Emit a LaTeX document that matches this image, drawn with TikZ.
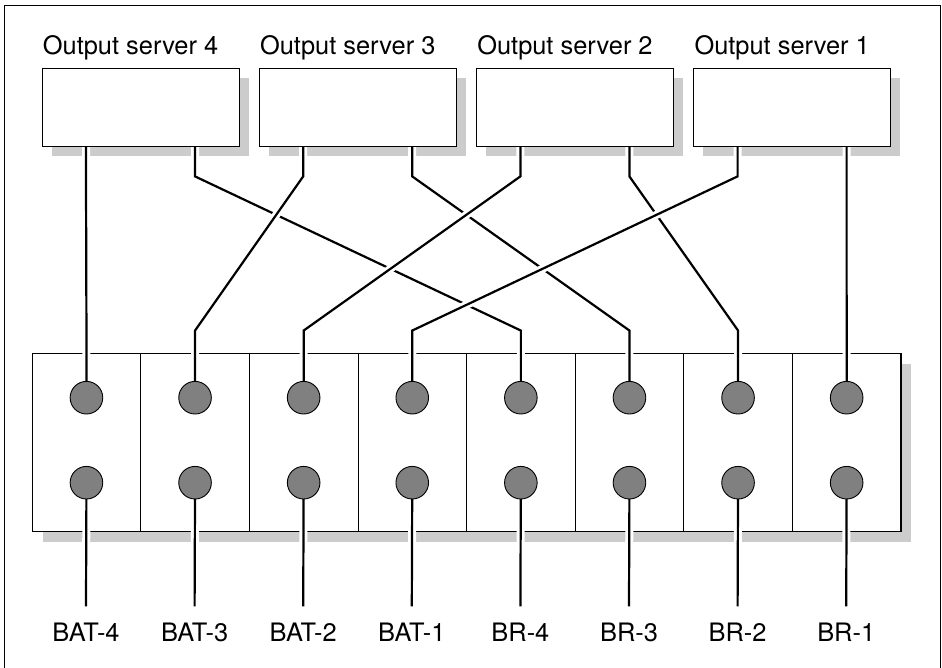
\documentclass[tikz,border=0pt]{standalone}
\usepackage{fontspec}
\setmainfont{TeX Gyre Heros}
\usepackage{tikz}
\usetikzlibrary{shadows}
\pgfdeclarelayer{front}
\pgfsetlayers{main,front}

\begin{document}
\begin{tikzpicture}[x=1pt,y=-1pt,font=\fontsize{25.4}{30}\selectfont]
\tikzstyle{server} = [draw,line width=0.9pt,fill=white,anchor=north west,minimum width=197pt,minimum height=77.4pt,inner sep=0pt,general shadow={fill=black!20,shadow xshift=9.4pt,shadow yshift=-9.4pt}];
\tikzstyle{rack} = [draw,line width=0.9pt,fill=white,anchor=north west,minimum width=868.6pt,minimum height=178.3pt,inner sep=0pt,general shadow={fill=black!20,shadow xshift=10.5pt,shadow yshift=-10.5pt}];
\tikzstyle{cell} = [draw,line width=0.9pt,anchor=north west,minimum width=108.6pt,minimum height=178.3pt,inner sep=0pt];
\tikzstyle{jack} = [draw,circle,line width=0.9pt,fill=black!50,minimum size=32.6pt,inner sep=0pt];
\tikzstyle{wire} = [line width=2.2pt,preaction={draw=white,line width=8pt}];
\tikzstyle{tag} = [anchor=base,inner sep=0pt,outer ysep=16.7pt];
\useasboundingbox (0,0) rectangle (942,668);
\draw[line width=0.8pt] (4,675) -- (4,5) -- (940.5,5) -- (940.5,675);

% output servers
\foreach \n/\k in {4/0,3/1,2/2,1/3}
  \node[server] (srv\n) at (41.7+217.2*\k,68.3) {};
\foreach \n in {1,...,4} {
  \node[anchor=base west,inner sep=0pt] (name\n) at ([xshift=1pt,yshift=13.3pt]srv\n.north west) {Output server \n};
  \coordinate (srv\n-l) at ([xshift=44.3pt,yshift=-0.5pt]srv\n.south west);
  \coordinate (srv\n-r) at ([xshift=153.3pt,yshift=-0.5pt]srv\n.south west);
}

% patch panel
\node[rack] (panel) at (31.7,352.7) {};
\foreach \i in {1,...,8}
  \node[cell] (cell\i) at (31.7+108.6*\i-108.6,352.7) {};
\begin{pgfonlayer}{front}
\foreach \i in {1,...,8} {
  \node[jack] (top\i) at ([yshift=-45pt]cell\i.north) {};
  \node[jack] (bot\i) at ([yshift=-130pt]cell\i.north) {};
}
\end{pgfonlayer}
\foreach \i/\txt in {1/BAT-4,2/BAT-3,3/BAT-2,4/BAT-1,5/BR-4,6/BR-3,7/BR-2,8/BR-1} {
  \node[tag] (tag\i) at (86+108.6*\i-108.6,641.7) {\txt};
  \draw[wire] (bot\i.center) -- (tag\i.north);
}

% BR cords first, the BAT cords cross over them
\foreach \n in {1,...,4} {
  \pgfmathtruncatemacro\c{9-\n}
  \draw[wire] (srv\n-r) -- ++(0,29.3) -- ([yshift=50.4pt]top\c.north) -- (top\c.center);
}
\foreach \n in {1,...,4} {
  \pgfmathtruncatemacro\c{5-\n}
  \draw[wire] (srv\n-l) -- ++(0,29.3) -- ([yshift=50.4pt]top\c.north) -- (top\c.center);
}

\end{tikzpicture}
\end{document}
